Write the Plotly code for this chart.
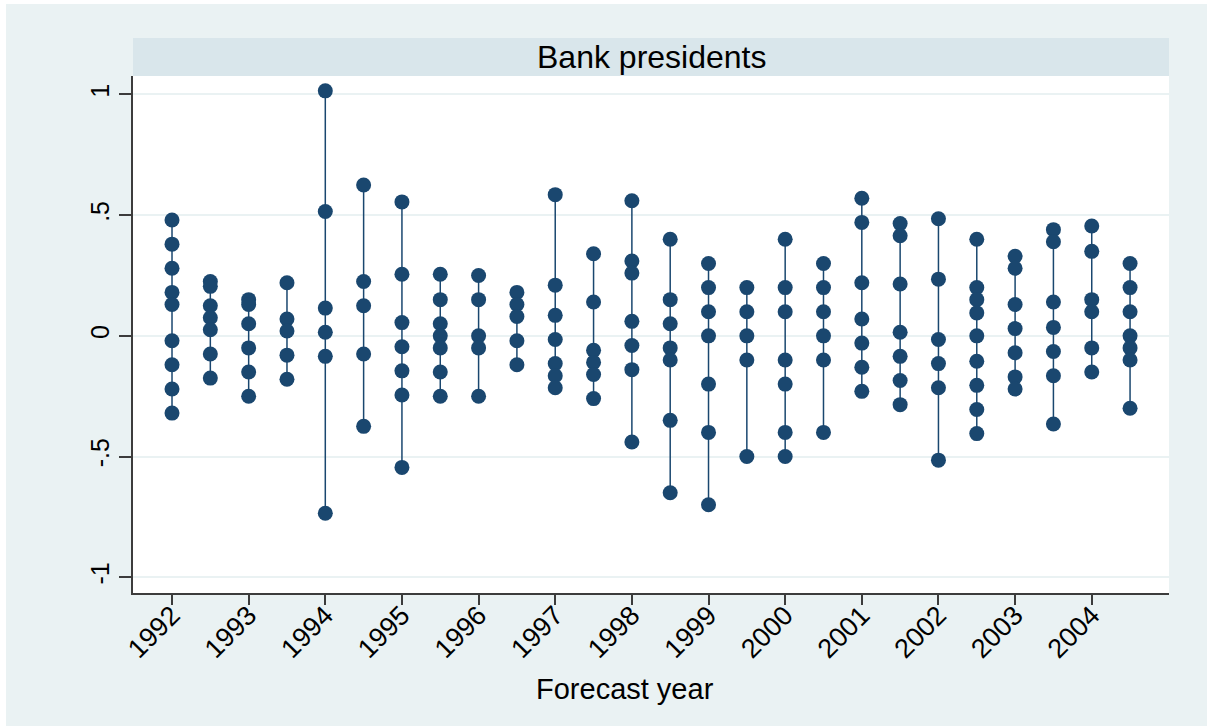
import plotly.graph_objects as go

# Forecast revisions by bank presidents, grouped by forecast year (half-year steps)
positions = [1992, 1992.5, 1993, 1993.5, 1994, 1994.5, 1995, 1995.5, 1996, 1996.5,
             1997, 1997.5, 1998, 1998.5, 1999, 1999.5, 2000, 2000.5, 2001, 2001.5,
             2002, 2002.5, 2003, 2003.5, 2004, 2004.5]

v1992a = [0.48, 0.38, 0.28, 0.18, 0.13, -0.02, -0.12, -0.22, -0.32]
v1992b = [0.225, 0.205, 0.125, 0.075, 0.025, -0.075, -0.175]
v1993a = [0.15, 0.13, 0.05, -0.05, -0.15, -0.25]
v1993b = [0.22, 0.07, 0.02, -0.08, -0.18]
v1994a = [1.015, 0.515, 0.115, 0.015, -0.085, -0.735]
v1994b = [0.625, 0.225, 0.125, -0.075, -0.375]
v1995a = [0.555, 0.255, 0.055, -0.045, -0.145, -0.245, -0.545]
v1995b = [0.255, 0.15, 0.05, 0.0, -0.05, -0.15, -0.25]
v1996a = [0.25, 0.15, 0.0, -0.05, -0.25]
v1996b = [0.18, 0.13, 0.08, -0.02, -0.12]
v1997a = [0.585, 0.21, 0.085, -0.015, -0.115, -0.165, -0.215]
v1997b = [0.34, 0.14, -0.06, -0.11, -0.16, -0.26]
v1998a = [0.56, 0.31, 0.26, 0.06, -0.04, -0.14, -0.44]
v1998b = [0.40, 0.15, 0.05, -0.05, -0.10, -0.35, -0.65]
v1999a = [0.30, 0.20, 0.10, 0.0, -0.20, -0.40, -0.70]
v1999b = [0.20, 0.10, 0.0, -0.10, -0.50]
v2000a = [0.40, 0.20, 0.10, -0.10, -0.20, -0.40, -0.50]
v2000b = [0.30, 0.20, 0.10, 0.0, -0.10, -0.40]
v2001a = [0.57, 0.47, 0.22, 0.07, -0.03, -0.13, -0.23]
v2001b = [0.465, 0.415, 0.215, 0.015, -0.085, -0.185, -0.285]
v2002a = [0.485, 0.235, -0.015, -0.115, -0.215, -0.515]
v2002b = [0.40, 0.20, 0.15, 0.095, 0.0, -0.105, -0.205, -0.305, -0.405]
v2003a = [0.33, 0.28, 0.13, 0.03, -0.07, -0.17, -0.22]
v2003b = [0.44, 0.39, 0.14, 0.035, -0.065, -0.165, -0.365]
v2004a = [0.455, 0.35, 0.15, 0.10, -0.05, -0.15]
v2004b = [0.30, 0.20, 0.10, 0.0, -0.05, -0.10, -0.30]

groups = [v1992a, v1992b, v1993a, v1993b, v1994a, v1994b, v1995a, v1995b,
          v1996a, v1996b, v1997a, v1997b, v1998a, v1998b, v1999a, v1999b,
          v2000a, v2000b, v2001a, v2001b, v2002a, v2002b, v2003a, v2003b,
          v2004a, v2004b]

year_ticks = list(range(1992, 2005))
y_ticks = [-1, -0.5, 0, 0.5, 1]
y_tick_text = ["-1", "-.5", "0", ".5", "1"]

NAVY = "#1a476f"
BG = "#eaf2f3"
STRIP = "#d9e6eb"
FONT = "Liberation Sans, Arial, sans-serif"

# spikes from the lowest to the highest value in each group
sx, sy = [], []
px, py = [], []
for pos, vals in zip(positions, groups):
    sx += [pos, pos, None]
    sy += [min(vals), max(vals), None]
    px += [pos] * len(vals)
    py += vals

fig = go.Figure()
fig.add_trace(go.Scatter(x=sx, y=sy, mode="lines",
                         line=dict(color=NAVY, width=1.5),
                         hoverinfo="skip", showlegend=False))
fig.add_trace(go.Scatter(x=px, y=py, mode="markers",
                         marker=dict(color=NAVY, size=15, symbol="circle",
                                     line=dict(width=0)),
                         showlegend=False))

W, H = 1207, 726
ml, mr, mt, mb = 133, 38, 76, 133
plot_w = W - ml - mr
plot_h = H - mt - mb
strip_h = 38 / plot_h

fig.update_layout(
    width=W, height=H,
    margin=dict(l=ml, r=mr, t=mt, b=mb),
    paper_bgcolor=BG,
    plot_bgcolor="white",
    font=dict(family=FONT, color="black"),
    xaxis=dict(
        range=[1991.491, 2005.008],
        tickmode="array", tickvals=year_ticks,
        ticktext=[str(y) for y in year_ticks],
        tickangle=-45, tickfont=dict(size=27),
        ticks="outside", ticklen=10, tickwidth=1.5, tickcolor="#3c3c3c",
        ticklabelstandoff=-16,
        showline=True, linecolor="#3c3c3c", linewidth=1.5,
        showgrid=False, zeroline=False,
    ),
    yaxis=dict(
        range=[-1.0654, 1.0766],
        tickmode="array", tickvals=y_ticks, ticktext=y_tick_text,
        tickangle=-90, tickfont=dict(size=25),
        ticks="outside", ticklen=12, tickwidth=1.5, tickcolor="#3c3c3c",
        showline=True, linecolor="#3c3c3c", linewidth=1.5,
        showgrid=True, gridcolor=BG, gridwidth=2,
        zeroline=False,
    ),
    shapes=[
        # facet title strip
        dict(type="rect", xref="paper", yref="paper",
             x0=0, x1=1, y0=1, y1=1 + strip_h,
             fillcolor=STRIP, line=dict(width=0), layer="below"),
        # thin white border along the top and left page edges
        dict(type="rect", xref="paper", yref="paper",
             x0=-ml / plot_w, x1=1 + mr / plot_w,
             y0=1 + (mt - 4) / plot_h, y1=1 + mt / plot_h,
             fillcolor="white", line=dict(width=0), layer="below"),
        dict(type="rect", xref="paper", yref="paper",
             x0=-ml / plot_w, x1=-(ml - 6) / plot_w,
             y0=-mb / plot_h, y1=1 + mt / plot_h,
             fillcolor="white", line=dict(width=0), layer="below"),
    ],
    annotations=[
        dict(text="Bank presidents", xref="paper", yref="paper",
             x=0.5, y=1 + strip_h / 2, xanchor="center", yanchor="middle",
             showarrow=False, font=dict(size=32, color="black")),
        dict(text="Forecast year", xref="paper", yref="paper",
             x=(625 - ml) / plot_w, y=-(689 - (H - mb)) / plot_h,
             xanchor="center", yanchor="middle",
             showarrow=False, font=dict(size=29, color="black")),
    ],
)

fig.write_html("out.html")
